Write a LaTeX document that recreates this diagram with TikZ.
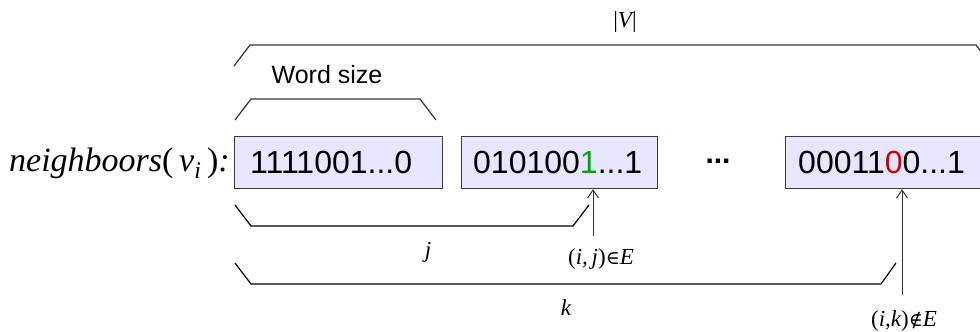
\documentclass[tikz,border=0pt]{standalone}
\usepackage{fontspec}
\setmainfont{Liberation Serif}
\newfontfamily\lsans{Liberation Sans}
\newfontfamily\dvs{DejaVu Serif}
\usetikzlibrary{arrows.meta}
\definecolor{boxfill}{RGB}{230,230,255}
\definecolor{boxdraw}{RGB}{60,60,60}
\definecolor{bitgreen}{RGB}{0,165,0}
\definecolor{bitred}{RGB}{210,0,0}
\begin{document}
\begin{tikzpicture}[x=1pt,y=-1pt,
  bitbox/.style={rectangle,draw=boxdraw,fill=boxfill,line width=1.2pt,minimum height=52pt,inner sep=0pt,anchor=north west},
  bits/.style={font=\lsans\fontsize{32}{36}\selectfont,anchor=base west,inner sep=0pt},
  brace/.style={draw=black!80,line width=1.2pt},
  lbl/.style={font=\fontsize{23}{27}\selectfont\itshape,inner sep=0pt},
  arr/.style={draw=black!80,line width=1pt,-{Straight Barb[length=8pt,width=11pt]}}
]
\useasboundingbox (0,0) rectangle (980,332);
% labels on top
\node[lbl] (vlab) at (625,22) {{\upshape|}V{\upshape|}};
\draw[brace] (234,66) -- (250,45) -- (976,45) -- (992,66);
\node[font=\lsans\fontsize{25}{30}\selectfont,inner sep=0pt] (ws) at (327,75) {Word size};
\draw[brace] (235,120) -- (251,99) -- (420,99) -- (436,120);
% the row
\node[anchor=base west,inner sep=0pt,font=\fontsize{34}{40}\selectfont\itshape] (nb) at (9,171)
  {neighboors{\upshape(}\,v\textsubscript{i}\,{\upshape)}:};
\node[bitbox,minimum width=208pt] (b1) at (234,136) {};
\node[bitbox,minimum width=196pt] (b2) at (461,136) {};
\node[bitbox,minimum width=205pt] (b3) at (785,136) {};
\node[bits] (t1) at (250,173) {1111001...0};
\node[bits] (t2) at (473,173) {010100{\color{bitgreen}1}...1};
\node[bits] (t3) at (798,173) {00011{\color{bitred}0}0...1};
\node[font=\lsans\bfseries\fontsize{30}{36}\selectfont,inner sep=0pt] (dots) at (718,161) {...};
% lower braces
\draw[brace,draw=black] (235,205) -- (251,226) -- (573,226) -- (589,205);
\node[lbl] (jl) at (428,252) {j};
\draw[brace,draw=black] (235,263) -- (251,284) -- (881,284) -- (896,263);
\node[lbl] (kl) at (566,308) {k};
% arrows
\coordinate (p1) at (593,236);
\draw[arr] (p1) -- (p1 |- b2.south);
\node[lbl] (ij) at (601,259) {{\upshape(}i,\,j{\upshape)}{\upshape\dvs\fontsize{19}{23}\selectfont ∈}E};
\coordinate (p2) at (902,295);
\draw[arr] (p2) -- (p2 |- b3.south);
\node[lbl] (ik) at (904,321) {{\upshape(}i,k{\upshape)}{\upshape\dvs\fontsize{19}{23}\selectfont ∉}E};
\end{tikzpicture}
\end{document}
